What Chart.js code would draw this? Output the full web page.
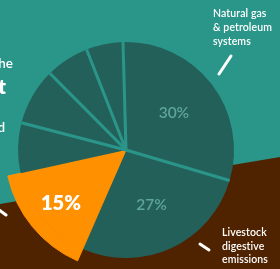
<!DOCTYPE html>
<html>
<head>
<meta charset="utf-8">
<script src="https://cdn.jsdelivr.net/npm/chart.js@4"></script>
<style>
  html, body { margin: 0; padding: 0; }
  body {
    width: 280px; height: 269px; overflow: hidden; position: relative;
    background: #2a968a;
    font-family: Lato, "Open Sans", sans-serif;
  }
  #ground {
    position: absolute; left: 0; top: 0; width: 280px; height: 269px;
    background: #4f2300;
    clip-path: polygon(0 204px, 280px 157px, 280px 269px, 0 269px);
  }
  #wrap { position: absolute; left: -24px; top: 0; width: 300px; height: 300px; }
  .note {
    position: absolute; color: #fff; font-size: 10.5px; line-height: 14px;
    font-weight: 600; white-space: nowrap; letter-spacing: 0.1px;
  }
  .side { position: absolute; color: #fff; white-space: nowrap; text-align: right; }
  svg { position: absolute; left: 0; top: 0; }
</style>
</head>
<body>
<div id="ground"></div>
<div id="wrap"><canvas id="methaneChart" width="300" height="300"></canvas></div>

<!-- text cut off at the left edge of the crop -->
<div class="side" style="right:267px; top:55px; font-size:13.5px; font-weight:600;">the</div>
<div class="side" style="right:274px; top:74px; font-size:20px; font-weight:800;">t</div>
<div class="side" style="right:275px; top:119px; font-size:13.5px; font-weight:600;">d</div>

<div class="note" style="left:213px; top:6px;">Natural gas<br>&amp; petroleum<br>systems</div>
<div class="note" style="left:222px; top:226px; line-height:13.5px;">Livestock<br>digestive<br>emissions</div>

<svg width="280" height="269">
  <g stroke="#fff" stroke-width="3" stroke-linecap="round">
    <line x1="219" y1="74" x2="231" y2="56" />
    <line x1="200" y1="244" x2="209" y2="250" />
    <line x1="-2" y1="209" x2="6" y2="215" />
  </g>
</svg>

<script>
// Methane sources, share of total (%), clockwise from the top
const categories = [
  'Natural gas & petroleum systems',
  'Livestock digestive emissions',
  'Landfills',
  'Manure management',
  'Coal mining',
  'Wastewater',
  'Other'
];
const shares = [30, 27, 15, 7.5, 8.5, 6.5, 5.5];
const highlight = 'Landfills';

const TEAL = '#2a968a';
const DARK = '#24605a';
const ORANGE = '#ff9100';

// teal lines between the dark slices (none along the orange slice)
const separators = {
    id: 'separators',
    afterDatasetsDraw(chart) {
        const meta = chart.getDatasetMeta(1);
        const ctx = chart.ctx;
        const n = meta.data.length;
        ctx.save();
        ctx.strokeStyle = TEAL;
        ctx.lineWidth = 3;
        meta.data.forEach((arc, i) => {
            const prev = (i - 1 + n) % n;
            if (categories[i] === highlight || categories[prev] === highlight) return;
            const p = arc.getProps(['x', 'y', 'startAngle', 'outerRadius'], true);
            ctx.beginPath();
            ctx.moveTo(p.x, p.y);
            ctx.lineTo(p.x + Math.cos(p.startAngle) * p.outerRadius, p.y + Math.sin(p.startAngle) * p.outerRadius);
            ctx.stroke();
        });
        ctx.restore();
    }
};

// percentage labels for the big slices
const percentLabels = {
    id: 'percentLabels',
    afterDatasetsDraw(chart) {
        const meta = chart.getDatasetMeta(1);
        const ctx = chart.ctx;
        ctx.save();
        ctx.textAlign = 'center';
        ctx.textBaseline = 'middle';
        meta.data.forEach((arc, i) => {
            if (shares[i] < 15) return;
            const p = arc.getProps(['x', 'y', 'startAngle', 'endAngle', 'outerRadius'], true);
            const mid = (p.startAngle + p.endAngle) / 2;
            const hi = categories[i] === highlight;
            const r = p.outerRadius * (hi ? 0.78 : 0.56);
            ctx.font = hi ? '800 20px Lato' : '600 15.5px Lato';
            ctx.fillStyle = hi ? '#ffffff' : '#5ea59b';
            ctx.fillText(shares[i] + '%', p.x + Math.cos(mid) * r, p.y + Math.sin(mid) * r);
        });
        ctx.restore();
    }
};

document.addEventListener('DOMContentLoaded', function () {
    const ctx = document.getElementById('methaneChart').getContext('2d');
    new Chart(ctx, {
        type: 'pie',
        data: {
            labels: categories,
            datasets: [
                {
                    // outer ring: only the highlighted slice sticks out
                    data: shares,
                    weight: 13,
                    backgroundColor: categories.map(c => c === highlight ? ORANGE : 'rgba(0,0,0,0)'),
                    borderColor: ORANGE,
                    borderWidth: categories.map(c => c === highlight ? 1 : 0)
                },
                {
                    data: shares,
                    weight: 108,
                    backgroundColor: categories.map(c => c === highlight ? ORANGE : DARK),
                    borderColor: ORANGE,
                    borderWidth: categories.map(c => c === highlight ? 1 : 0)
                }
            ]
        },
        options: {
            responsive: false,
            animation: false,
            events: [],
            rotation: -1.6,
            layout: { padding: 28.5 },
            plugins: {
                legend: { display: false },
                tooltip: { enabled: false }
            }
        },
        plugins: [separators, percentLabels]
    });
});
</script>
</body>
</html>
